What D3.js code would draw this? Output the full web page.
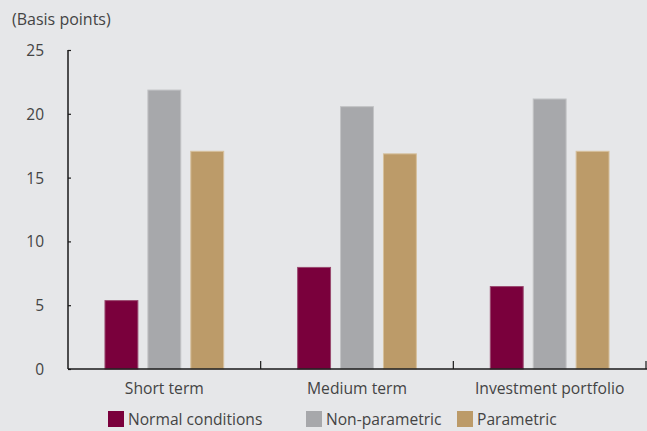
<!DOCTYPE html>
<html>
<head>
<meta charset="utf-8">
<script src="https://cdn.jsdelivr.net/npm/d3@7"></script>
<style>
  html, body { margin: 0; padding: 0; background: #e6e7e9; }
  svg { display: block; font-family: "Open Sans", "Noto Sans", sans-serif; }
</style>
</head>
<body>
<svg id="chart" width="647" height="431"></svg>
<script>
// Horizons compared
const categories = ["Short term", "Medium term", "Investment portfolio"];
// Series names, in drawing order
const seriesNames = ["Normal conditions", "Non-parametric", "Parametric"];
// Values in basis points, one per category
const normalConditions = [5.4, 8.0, 6.5];
const nonParametric = [21.9, 20.6, 21.2];
const parametric = [17.1, 16.9, 17.1];
const yTicks = [0, 5, 10, 15, 20, 25];
const unitLabel = "(Basis points)";

const seriesValues = [normalConditions, nonParametric, parametric];
const colors = ["#7a003c", "#a7a8ab", "#bc9b69"];
const strokes = ["#9a4a70", "#c2c3c5", "#d6c09c"];

const svg = d3.select("#chart");
const margin = { left: 68, right: 1, top: 50, bottom: 62 };
const W = 647, H = 431;

const x = d3.scaleBand()
  .domain(categories)
  .range([margin.left, W - margin.right])
  .paddingInner(0)
  .paddingOuter(0);

const y = d3.scaleLinear()
  .domain([0, 25])
  .range([H - margin.bottom, margin.top]);

// Inner band for the three bars of a group
const xs = d3.scaleBand()
  .domain(d3.range(seriesNames.length))
  .range([0, x.bandwidth()])
  .paddingInner(0.21)
  .paddingOuter(0.85);

// Bars
const groups = svg.append("g")
  .selectAll("g")
  .data(categories)
  .join("g")
  .attr("transform", d => `translate(${x(d)},0)`);

groups.selectAll("rect")
  .data((c, ci) => seriesValues.map((vals, si) => ({ si, v: vals[ci] })))
  .join("rect")
  .attr("x", d => xs(d.si) + 0.5)
  .attr("width", xs.bandwidth() - 1)
  .attr("y", d => y(d.v) + 0.5)
  .attr("height", d => y(0) - y(d.v) - 0.5)
  .attr("fill", d => colors[d.si])
  .attr("stroke", d => strokes[d.si])
  .attr("stroke-width", 1);

// Y axis
const yAxis = svg.append("g")
  .attr("transform", `translate(${margin.left},0)`)
  .call(d3.axisLeft(y).tickValues(yTicks).tickSize(-3).tickPadding(24));
yAxis.select(".domain")
  .attr("d", `M0,${y(25)}V${y(0)}`)
  .attr("stroke", "#1a1a1a").attr("stroke-width", 1.5);
yAxis.selectAll(".tick line").attr("stroke", "#1a1a1a").attr("stroke-width", 1.2);
yAxis.selectAll(".tick text")
  .attr("fill", "#444")
  .attr("font-size", 15.5)
  .attr("font-family", "Open Sans, sans-serif")
  .attr("dy", "0.35em");

// X axis: baseline with ticks at group boundaries
const xAxisG = svg.append("g").attr("transform", `translate(0,${y(0)})`);
xAxisG.append("line")
  .attr("x1", margin.left).attr("x2", W)
  .attr("stroke", "#1a1a1a").attr("stroke-width", 1.5);
xAxisG.selectAll("line.sep")
  .data(categories)
  .join("line")
  .attr("class", "sep")
  .attr("x1", d => x(d) + x.bandwidth())
  .attr("x2", d => x(d) + x.bandwidth())
  .attr("y1", 0).attr("y2", -8)
  .attr("stroke", "#1a1a1a").attr("stroke-width", 1.2);
xAxisG.selectAll("text")
  .data(categories)
  .join("text")
  .attr("x", d => x(d) + x.bandwidth() / 2)
  .attr("y", 25)
  .attr("text-anchor", "middle")
  .attr("fill", "#444")
  .attr("font-size", 15.7)
  .text(d => d);

// Unit label
svg.append("text")
  .attr("x", 12).attr("y", 25)
  .attr("fill", "#444")
  .attr("font-size", 16)
  .text(unitLabel);

// Legend
const legendX = [108, 306, 457];
const legend = svg.append("g")
  .selectAll("g")
  .data(seriesNames)
  .join("g")
  .attr("transform", (d, i) => `translate(${legendX[i]},411)`);
legend.append("rect")
  .attr("width", 16).attr("height", 16)
  .attr("fill", (d, i) => colors[i]);
legend.append("text")
  .attr("x", 20).attr("y", 14)
  .attr("fill", "#444")
  .attr("font-size", 15.6)
  .text(d => d);
</script>
</body>
</html>
